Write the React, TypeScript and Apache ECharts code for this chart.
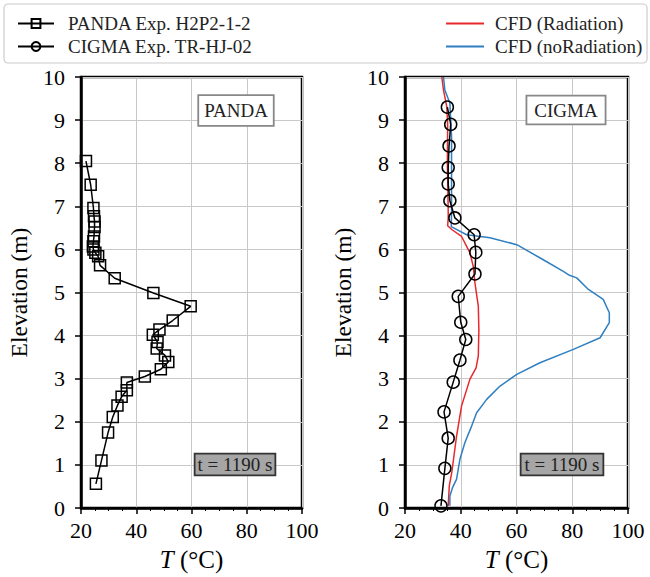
import React, { useEffect, useRef } from "react";
import * as echarts from "echarts";

const pandaT = [21.8, 23.5, 24.5, 24.7, 24.9, 24.9, 24.7, 24.5, 24.3, 24.5, 25.2, 26.2, 26.9, 32.2, 46.2, 59.7, 53.2, 48.4, 46.0, 47.7, 47.4, 50.4, 51.6, 48.9, 43.1, 36.6, 36.6, 34.7, 33.2, 31.5, 29.8, 27.4, 25.4];
const pandaZ = [8.05, 7.5, 6.96, 6.77, 6.65, 6.52, 6.3, 6.19, 6.07, 6.0, 5.92, 5.84, 5.63, 5.33, 4.99, 4.68, 4.35, 4.14, 4.02, 3.85, 3.7, 3.54, 3.39, 3.22, 3.05, 2.91, 2.73, 2.58, 2.38, 2.11, 1.75, 1.1, 0.56];

const cigmaT = [35.2, 36.4, 35.8, 35.5, 35.5, 36.1, 37.9, 44.8, 45.4, 45.1, 39.1, 40.0, 41.8, 39.7, 37.3, 34.0, 35.5, 34.3, 32.9];
const cigmaZ = [9.3, 8.9, 8.4, 7.9, 7.52, 7.13, 6.73, 6.34, 5.93, 5.43, 4.91, 4.31, 3.91, 3.43, 2.92, 2.23, 1.62, 0.92, 0.05];

const radT = [33.2, 33.8, 35.0, 35.3, 35.2, 35.4, 35.5, 35.5, 35.3, 37.0, 40.3, 43.3, 44.5, 45.1, 46.3, 46.5, 46.3, 45.5, 43.3, 40.3, 38.5, 36.8, 35.9, 35.5];
const radZ = [10.0, 9.7, 9.3, 8.9, 8.0, 7.3, 6.9, 6.73, 6.55, 6.45, 6.3, 5.92, 5.6, 5.22, 4.68, 4.14, 3.53, 3.25, 2.99, 2.37, 1.67, 0.83, 0.52, 0.05];

const noradT = [33.8, 34.3, 36.1, 36.7, 36.7, 36.7, 36.6, 42.1, 50.5, 60.1, 69.6, 76.8, 79.0, 81.6, 85.8, 91.1, 93.3, 93.3, 90.0, 80.4, 68.4, 60.1, 54.1, 49.3, 45.7, 43.9, 41.5, 39.7, 38.5, 37.1, 36.1, 36.1];
const noradZ = [10.0, 9.7, 9.39, 8.62, 7.5, 6.84, 6.53, 6.34, 6.27, 6.11, 5.76, 5.49, 5.4, 5.34, 5.07, 4.84, 4.53, 4.3, 3.95, 3.68, 3.37, 3.1, 2.83, 2.52, 2.21, 1.9, 1.52, 1.13, 0.67, 0.48, 0.28, 0.05];

const xTicks = [20, 40, 60, 80, 100];
const yTicks = [0, 1, 2, 3, 4, 5, 6, 7, 8, 9, 10];

const panelNames = ["PANDA", "CIGMA"];
const timeLabel = "t = 1190 s";
const seriesNames = ["PANDA Exp. H2P2-1-2", "CIGMA Exp. TR-HJ-02", "CFD (Radiation)", "CFD (noRadiation)"];

const FONT = "Liberation Serif";
const RED = "#e8282b";
const BLUE = "#2f7fc1";

function zip(a: number[], b: number[]) {
  return a.map((v, i) => [v, b[i]]);
}

export default function App() {
  const ref = useRef<HTMLDivElement>(null);
  useEffect(() => {
    document.body.style.margin = "0";
    const chart = echarts.init(ref.current!, null, { renderer: "svg" });
    const gridLefts = [81, 405];
    const gridWidths = [221, 223];
    const mkX = (i: number) => ({
      gridIndex: i,
      type: "value",
      min: xTicks[0],
      max: xTicks[xTicks.length - 1],
      interval: 20,
      name: "{i|T} (°C)",
      nameLocation: "middle",
      nameGap: 39,
      nameTextStyle: {
        fontFamily: FONT,
        fontSize: 25,
        color: "#000",
        rich: { i: { fontFamily: FONT, fontSize: 25, fontStyle: "italic", color: "#000" } },
      },
      axisLine: { show: true, onZero: false, lineStyle: { color: "#000", width: 2.5 } },
      axisTick: { show: true, length: 6, lineStyle: { color: "#000", width: 1.5 } },
      minorTick: { show: true, splitNumber: 4, length: 3, lineStyle: { color: "#000", width: 1 } },
      axisLabel: { fontFamily: FONT, fontSize: 22, color: "#000", margin: 11 },
      splitLine: { show: true, lineStyle: { color: "#c8c8c8", width: 1 } },
    });
    const mkY = (i: number) => ({
      gridIndex: i,
      type: "value",
      min: yTicks[0],
      max: yTicks[yTicks.length - 1],
      interval: 1,
      name: "Elevation (m)",
      nameLocation: "middle",
      nameGap: 50,
      nameRotate: 90,
      nameTextStyle: { fontFamily: FONT, fontSize: 23.5, color: "#000" },
      axisLine: { show: true, onZero: false, lineStyle: { color: "#000", width: 2.5 } },
      axisTick: { show: true, length: 6, lineStyle: { color: "#000", width: 1.5 } },
      axisLabel: { fontFamily: FONT, fontSize: 22, color: "#000", margin: 16 },
      splitLine: { show: true, lineStyle: { color: "#c8c8c8", width: 1 } },
    });

    const expStyle = (symbol: string, size: number) => ({
      type: "line",
      symbol,
      symbolSize: size,
      showSymbol: true,
      lineStyle: { color: "#000", width: 1.5 },
      itemStyle: { color: "rgba(255,255,255,0)", borderColor: "#000", borderWidth: 1.5 },
      z: 5,
    });

    const annot = (cx: number, cy: number, text: string, bg: string, border: string, pad: number[]) => ({
      type: "text",
      x: cx,
      y: cy,
      z: 100,
      style: {
        text,
        fontFamily: FONT,
        fontSize: 19,
        fill: "#222",
        align: "center",
        verticalAlign: "middle",
        backgroundColor: bg,
        borderColor: border,
        borderWidth: 1.8,
        padding: pad,
      },
    });

    const hidden = { color: "rgba(0,0,0,0)", borderColor: "rgba(0,0,0,0)", borderWidth: 0 };

    chart.setOption({
      animation: false,
      backgroundColor: "#fff",
      grid: [0, 1].map((i) => ({
        left: gridLefts[i],
        top: 77,
        width: gridWidths[i],
        height: 432,
        show: true,
        borderColor: "#000",
        borderWidth: 2.5,
        backgroundColor: "transparent",
      })),
      xAxis: [mkX(0), mkX(1)],
      yAxis: [mkY(0), mkY(1)],
      legend: [
        {
          data: [seriesNames[0], seriesNames[1]],
          orient: "vertical",
          left: 12,
          top: 9,
          itemWidth: 36,
          itemHeight: 11,
          itemGap: 4,
          textStyle: { fontFamily: FONT, fontSize: 19, color: "#222", padding: [0, 0, 0, 9] },
        },
        {
          data: [
            { name: seriesNames[2], itemStyle: hidden },
            { name: seriesNames[3], itemStyle: hidden },
          ],
          orient: "vertical",
          left: 440,
          top: 9,
          itemWidth: 38,
          itemHeight: 11,
          itemGap: 4,
          textStyle: { fontFamily: FONT, fontSize: 19, color: "#222", padding: [0, 0, 0, 6] },
        },
      ],
      series: [
        { name: seriesNames[0], ...expStyle("rect", 11), xAxisIndex: 0, yAxisIndex: 0, data: zip(pandaT, pandaZ) },
        { name: seriesNames[2], type: "line", symbol: "none", xAxisIndex: 1, yAxisIndex: 1, data: zip(radT, radZ), lineStyle: { color: RED, width: 1.5 }, itemStyle: { color: RED }, z: 3 },
        { name: seriesNames[3], type: "line", symbol: "none", xAxisIndex: 1, yAxisIndex: 1, data: zip(noradT, noradZ), lineStyle: { color: BLUE, width: 1.5 }, itemStyle: { color: BLUE }, z: 3 },
        { name: seriesNames[1], ...expStyle("circle", 12), xAxisIndex: 1, yAxisIndex: 1, data: zip(cigmaT, cigmaZ) },
      ],
      graphic: [
        {
          type: "rect",
          shape: { x: 4, y: 4, width: 643, height: 59, r: 4 },
          style: { fill: "#fff", stroke: "#cccccc", lineWidth: 1.2 },
          z: -1,
        },
        annot(236, 110.5, panelNames[0], "#fff", "#888", [6, 5, 4, 5]),
        annot(566, 110, panelNames[1], "#fff", "#888", [5, 7, 3, 7]),
        annot(235, 464.5, timeLabel, "#a6a6a6", "#333", [1, 2, 0, 2]),
        annot(562, 464.5, timeLabel, "#a6a6a6", "#333", [1, 3, 0, 3]),
      ],
    });
    return () => chart.dispose();
  }, []);
  return <div ref={ref} style={{ width: 650, height: 577 }} />;
}
